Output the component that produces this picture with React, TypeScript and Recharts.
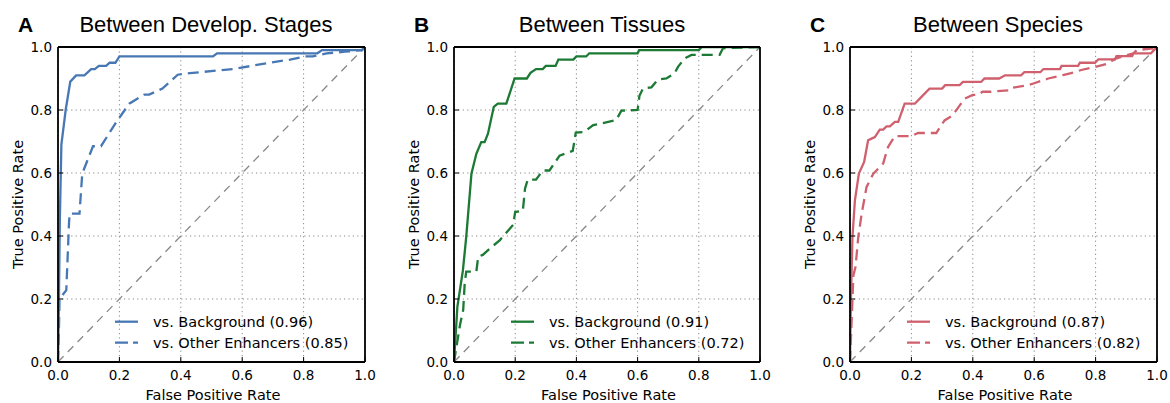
import React from "react";
import { LineChart, Line, XAxis, YAxis, CartesianGrid } from "recharts";

// ROC points: [false positive rate, true positive rate]
const stagesBackground: [number, number][] = [
  [0, 0], [0.003, 0.2], [0.006, 0.45], [0.011, 0.69], [0.025, 0.8], [0.04, 0.89],
  [0.059, 0.91], [0.086, 0.91], [0.108, 0.93], [0.12, 0.93], [0.133, 0.94],
  [0.157, 0.94], [0.168, 0.95], [0.187, 0.95], [0.2, 0.97], [0.505, 0.97],
  [0.518, 0.98], [0.845, 0.98], [0.86, 0.99], [0.99, 0.99], [1, 1],
];
const stagesOther: [number, number][] = [
  [0, 0], [0.003, 0.1], [0.005, 0.2], [0.027, 0.228], [0.036, 0.444], [0.038, 0.471],
  [0.07, 0.471], [0.079, 0.598], [0.114, 0.685], [0.14, 0.685], [0.19, 0.762],
  [0.232, 0.82], [0.281, 0.849], [0.297, 0.849], [0.34, 0.868], [0.39, 0.912],
  [0.43, 0.917], [0.57, 0.93], [0.63, 0.94], [0.69, 0.95], [0.756, 0.96],
  [0.805, 0.97], [0.83, 0.97], [0.875, 0.98], [0.935, 0.985], [0.99, 0.99], [1, 1],
];

const tissuesBackground: [number, number][] = [
  [0, 0], [0.011, 0.175], [0.029, 0.29], [0.04, 0.397], [0.057, 0.598], [0.073, 0.661],
  [0.089, 0.698], [0.1, 0.698], [0.111, 0.725], [0.13, 0.81], [0.143, 0.82],
  [0.171, 0.82], [0.198, 0.9], [0.238, 0.9], [0.25, 0.918], [0.268, 0.93],
  [0.29, 0.93], [0.3, 0.94], [0.332, 0.94], [0.341, 0.96], [0.39, 0.96], [0.4, 0.97],
  [0.432, 0.97], [0.442, 0.98], [0.6, 0.98], [0.605, 0.99], [0.8, 0.99], [0.81, 1], [1, 1],
];
const tissuesOther: [number, number][] = [
  [0, 0], [0.01, 0.06], [0.02, 0.12], [0.03, 0.165], [0.035, 0.25], [0.04, 0.287],
  [0.073, 0.287], [0.079, 0.334], [0.094, 0.34], [0.117, 0.36], [0.15, 0.387],
  [0.193, 0.435], [0.2, 0.476], [0.225, 0.48], [0.232, 0.55], [0.241, 0.579],
  [0.268, 0.579], [0.29, 0.608], [0.312, 0.608], [0.345, 0.655], [0.388, 0.67],
  [0.398, 0.728], [0.425, 0.73], [0.455, 0.752], [0.53, 0.768], [0.547, 0.798],
  [0.6, 0.8], [0.606, 0.845], [0.618, 0.869], [0.645, 0.872], [0.667, 0.897],
  [0.694, 0.9], [0.721, 0.917], [0.732, 0.937], [0.754, 0.964], [0.776, 0.975],
  [0.868, 0.975], [0.879, 0.996], [1, 1],
];

const speciesBackground: [number, number][] = [
  [0, 0], [0.003, 0.196], [0.008, 0.397], [0.016, 0.513], [0.029, 0.598], [0.046, 0.635],
  [0.059, 0.704], [0.07, 0.709], [0.081, 0.714], [0.097, 0.738], [0.108, 0.738],
  [0.119, 0.748], [0.13, 0.748], [0.146, 0.762], [0.157, 0.762], [0.178, 0.82],
  [0.211, 0.82], [0.232, 0.841], [0.259, 0.868], [0.3, 0.868], [0.31, 0.879],
  [0.357, 0.879], [0.368, 0.889], [0.427, 0.889], [0.438, 0.9], [0.486, 0.9],
  [0.505, 0.91], [0.557, 0.91], [0.568, 0.92], [0.62, 0.92], [0.63, 0.93],
  [0.684, 0.93], [0.689, 0.94], [0.743, 0.94], [0.749, 0.95], [0.798, 0.95],
  [0.809, 0.961], [0.863, 0.961], [0.868, 0.971], [0.919, 0.971], [0.924, 0.98],
  [0.98, 0.98], [1, 1],
];
const speciesOther: [number, number][] = [
  [0, 0], [0.005, 0.122], [0.011, 0.275], [0.018, 0.302], [0.027, 0.397], [0.038, 0.471],
  [0.054, 0.556], [0.076, 0.598], [0.108, 0.63], [0.124, 0.683], [0.146, 0.717],
  [0.2, 0.717], [0.222, 0.727], [0.281, 0.727], [0.292, 0.744], [0.308, 0.767],
  [0.33, 0.78], [0.346, 0.799], [0.373, 0.836], [0.4, 0.848], [0.416, 0.848],
  [0.432, 0.858], [0.46, 0.858], [0.52, 0.863], [0.525, 0.87], [0.58, 0.879],
  [0.6, 0.885], [0.646, 0.9], [0.694, 0.911], [0.72, 0.917], [0.753, 0.927],
  [0.792, 0.935], [0.836, 0.946], [0.868, 0.964], [0.923, 0.98], [0.934, 0.99],
  [0.988, 0.996], [1, 1],
];

const chance: [number, number][] = [[0, 0], [1, 1]];
const ticks = [0, 0.2, 0.4, 0.6, 0.8, 1.0];

const panels = [
  {
    letter: "A", title: "Between Develop. Stages", color: "#4878b4",
    background: stagesBackground, other: stagesOther,
    aucBackground: "0.96", aucOther: "0.85", left: 58, right: 365, titleX: 206,
  },
  {
    letter: "B", title: "Between Tissues", color: "#1c7a34",
    background: tissuesBackground, other: tissuesOther,
    aucBackground: "0.91", aucOther: "0.72", left: 454, right: 760, titleX: 602,
  },
  {
    letter: "C", title: "Between Species", color: "#d0606e",
    background: speciesBackground, other: speciesOther,
    aucBackground: "0.87", aucOther: "0.82", left: 850, right: 1157, titleX: 998,
  },
];

const TOP = 47;
const BOTTOM = 362;
const HEIGHT = 403;
const tickFont = { fontFamily: "DejaVu Sans", fontSize: 13.5, fill: "#000" };
const labelFont = "DejaVu Sans";
const frame = { stroke: "#000", strokeWidth: 1.8 };

const toPoints = (pts: [number, number][]) => pts.map(([x, y]) => ({ x, y }));

function Panel({ p }: { p: (typeof panels)[number] }) {
  const chartLeft = p.left - 58;
  const width = p.right - p.left + 58 + 25;
  return (
    <div style={{ position: "absolute", left: chartLeft, top: 0 }}>
      <LineChart
        width={width}
        height={HEIGHT}
        margin={{ top: TOP - 1, right: 24, bottom: HEIGHT - BOTTOM - 40, left: 18 }}
      >
        <CartesianGrid stroke="#888" strokeDasharray="1.2 3.2" strokeWidth={1} />
        <Line
          data={toPoints(chance)} dataKey="y" type="linear" stroke="#888"
          strokeWidth={1.3} strokeDasharray="8 6" dot={false} isAnimationActive={false}
        />
        <Line
          data={toPoints(p.other)} dataKey="y" type="linear" stroke={p.color}
          strokeWidth={2.3} strokeDasharray="11 6" dot={false} isAnimationActive={false}
        />
        <Line
          data={toPoints(p.background)} dataKey="y" type="linear" stroke={p.color}
          strokeWidth={2.3} dot={false} isAnimationActive={false}
        />
        <XAxis
          type="number" dataKey="x" domain={[0, 1]} ticks={ticks} height={40}
          tickFormatter={(v: number) => v.toFixed(1)}
          tick={tickFont} tickSize={-5} tickMargin={13.4}
          axisLine={frame} tickLine={{ stroke: "#000" }}
          allowDataOverflow
        />
        <XAxis
          xAxisId="top" orientation="top" type="number" dataKey="x" domain={[0, 1]}
          ticks={ticks} height={1} tick={false} tickSize={-5}
          axisLine={frame} tickLine={{ stroke: "#000" }}
        />
        <YAxis
          type="number" dataKey="y" domain={[0, 1]} ticks={ticks} width={40}
          tickFormatter={(v: number) => v.toFixed(1)}
          tick={tickFont} tickSize={-5} tickMargin={11}
          axisLine={frame} tickLine={{ stroke: "#000" }}
          allowDataOverflow
        />
        <YAxis
          yAxisId="right" orientation="right" type="number" dataKey="y" domain={[0, 1]}
          ticks={ticks} width={1} tick={false} tickSize={-5}
          axisLine={frame} tickLine={{ stroke: "#000" }}
        />
      </LineChart>
    </div>
  );
}

function Annotations() {
  const midY = (TOP + BOTTOM) / 2;
  return (
    <svg
      width={1170}
      height={HEIGHT}
      style={{ position: "absolute", left: 0, top: 0, pointerEvents: "none" }}
    >
      {panels.map((p) => {
        const midX = (p.left + p.right) / 2;
        return (
          <g key={p.letter}>
            <text x={p.left - 40} y={32} fontFamily="Liberation Sans" fontWeight="bold" fontSize={21}>
              {p.letter}
            </text>
            <text x={p.titleX} y={32} textAnchor="middle" fontFamily="Liberation Sans" fontSize={22}>
              {p.title}
            </text>
            <text
              transform={`translate(${p.left - 35},${midY}) rotate(-90)`}
              textAnchor="middle" fontFamily={labelFont} fontSize={14.5}
            >
              True Positive Rate
            </text>
            <text x={midX + 1.5} y={400} textAnchor="middle" fontFamily={labelFont} fontSize={14.5}>
              False Positive Rate
            </text>
            <line x1={p.left + 57} x2={p.left + 80} y1={321.7} y2={321.7} stroke={p.color} strokeWidth={2.3} />
            <line
              x1={p.left + 57} x2={p.left + 80} y1={342.7} y2={342.7}
              stroke={p.color} strokeWidth={2.3} strokeDasharray="13 5"
            />
            <text x={p.left + 95} y={326.6} fontFamily={labelFont} fontSize={14.5}>
              {`vs. Background (${p.aucBackground})`}
            </text>
            <text x={p.left + 95} y={347.7} fontFamily={labelFont} fontSize={14.5}>
              {`vs. Other Enhancers (${p.aucOther})`}
            </text>
          </g>
        );
      })}
    </svg>
  );
}

export default function App() {
  return (
    <div style={{ position: "absolute", left: 0, top: 0, width: 1170, height: HEIGHT, background: "#fff" }}>
      {panels.map((p) => (
        <Panel key={p.letter} p={p} />
      ))}
      <Annotations />
    </div>
  );
}
